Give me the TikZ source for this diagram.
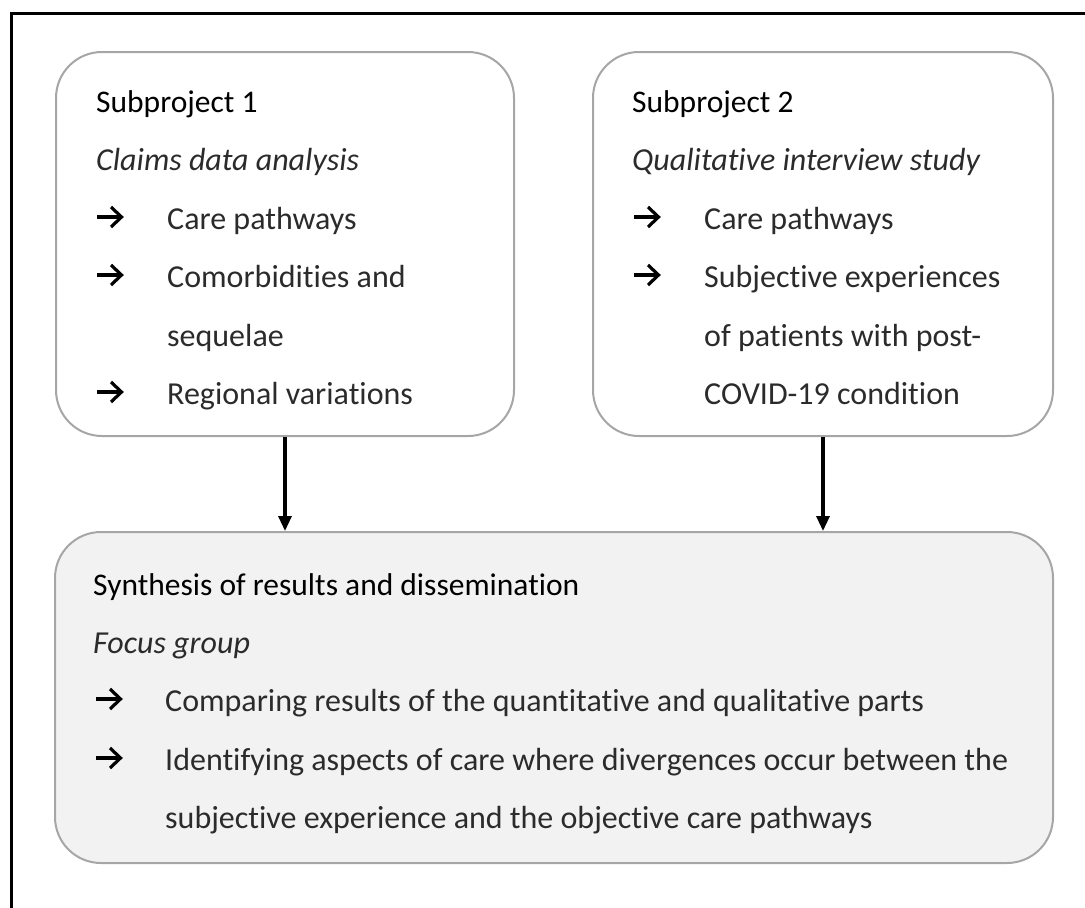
\documentclass[tikz,border=0pt]{standalone}
\usepackage{fontspec}
\setmainfont{Carlito}[Ligatures=NoCommon]
\usetikzlibrary{arrows.meta,positioning}
\definecolor{rahmen}{HTML}{A6A6A6}
\definecolor{fuell}{HTML}{F2F2F2}
\definecolor{schrift}{HTML}{2B2B2B}

\begin{document}
\begin{tikzpicture}[x=1pt,y=-1pt,>={Triangle[width=13pt,length=15pt]},
    panel/.style={draw=rahmen,line width=2pt,rounded corners=46pt,inner sep=0pt},
    kopf/.style={anchor=base west,inner sep=0pt,font=\fontsize{31.5}{31.5}\selectfont},
    zeile/.style={anchor=base west,inner sep=0pt,text=schrift,font=\fontsize{32}{32}\selectfont},
    pfeil/.pic={
      \draw[line width=3.2pt] (0,-12) -- (24,-12);
      \draw[line width=3.2pt,line join=miter] (14,-22) -- (24.5,-12) -- (14,-2);
    }]
  \useasboundingbox (0,0) rectangle (1085,908);
  % outer frame (cut at right and bottom)
  \draw[line width=3pt] (11,908) -- (11,13) -- (1085,13);

  % panels
  \node[panel,minimum width=458pt,minimum height=384pt] (sp1) at (285,244) {};
  \node[panel,minimum width=460pt,minimum height=384pt] (sp2) at (823,244) {};
  \node[panel,fill=fuell,minimum width=998pt,minimum height=331pt] (syn) at (554,697.5) {};

  % subproject 1
  \node[kopf] (sp1-titel) at (96,112) {Subproject 1};
  \node[zeile] (sp1-art) at (96,170) {\itshape Claims data analysis};
  \foreach \y/\txt in {229/Care pathways,287/Comorbidities and,404/Regional variations}{
    \pic at (97,\y) {pfeil};
    \node[zeile] (sp1-z\y) at (167,\y) {\txt};
  }
  \node[zeile] (sp1-z346) at (167,346) {sequelae};

  % subproject 2
  \node[kopf] (sp2-titel) at (632,112) {Subproject 2};
  \node[zeile] (sp2-art) at (632,170) {\itshape Qualitative interview study};
  \foreach \y/\txt in {229/Care pathways,287/Subjective experiences}{
    \pic at (634,\y) {pfeil};
    \node[zeile] (sp2-z\y) at (704,\y) {\txt};
  }
  \node[zeile] (sp2-z346) at (704,346) {of patients with post-};
  \node[zeile] (sp2-z404) at (704,404) {COVID-19 condition};

  % synthesis
  \node[kopf] (syn-titel) at (93,595) {Synthesis of results and dissemination};
  \node[zeile] (syn-art) at (93,653) {\itshape Focus group};
  \foreach \y/\txt in {711/Comparing results of the quantitative and qualitative parts,
      770/Identifying aspects of care where divergences occur between the}{
    \pic at (96,\y) {pfeil};
    \node[zeile] (syn-z\y) at (165,\y) {\txt};
  }
  \node[zeile] (syn-z828) at (165,828) {subjective experience and the objective care pathways};

  % connectors
  \draw[->,line width=3.2pt] (sp1.south) -- (sp1.south |- syn.north);
  \draw[->,line width=3.2pt] (sp2.south) -- (sp2.south |- syn.north);
\end{tikzpicture}
\end{document}
